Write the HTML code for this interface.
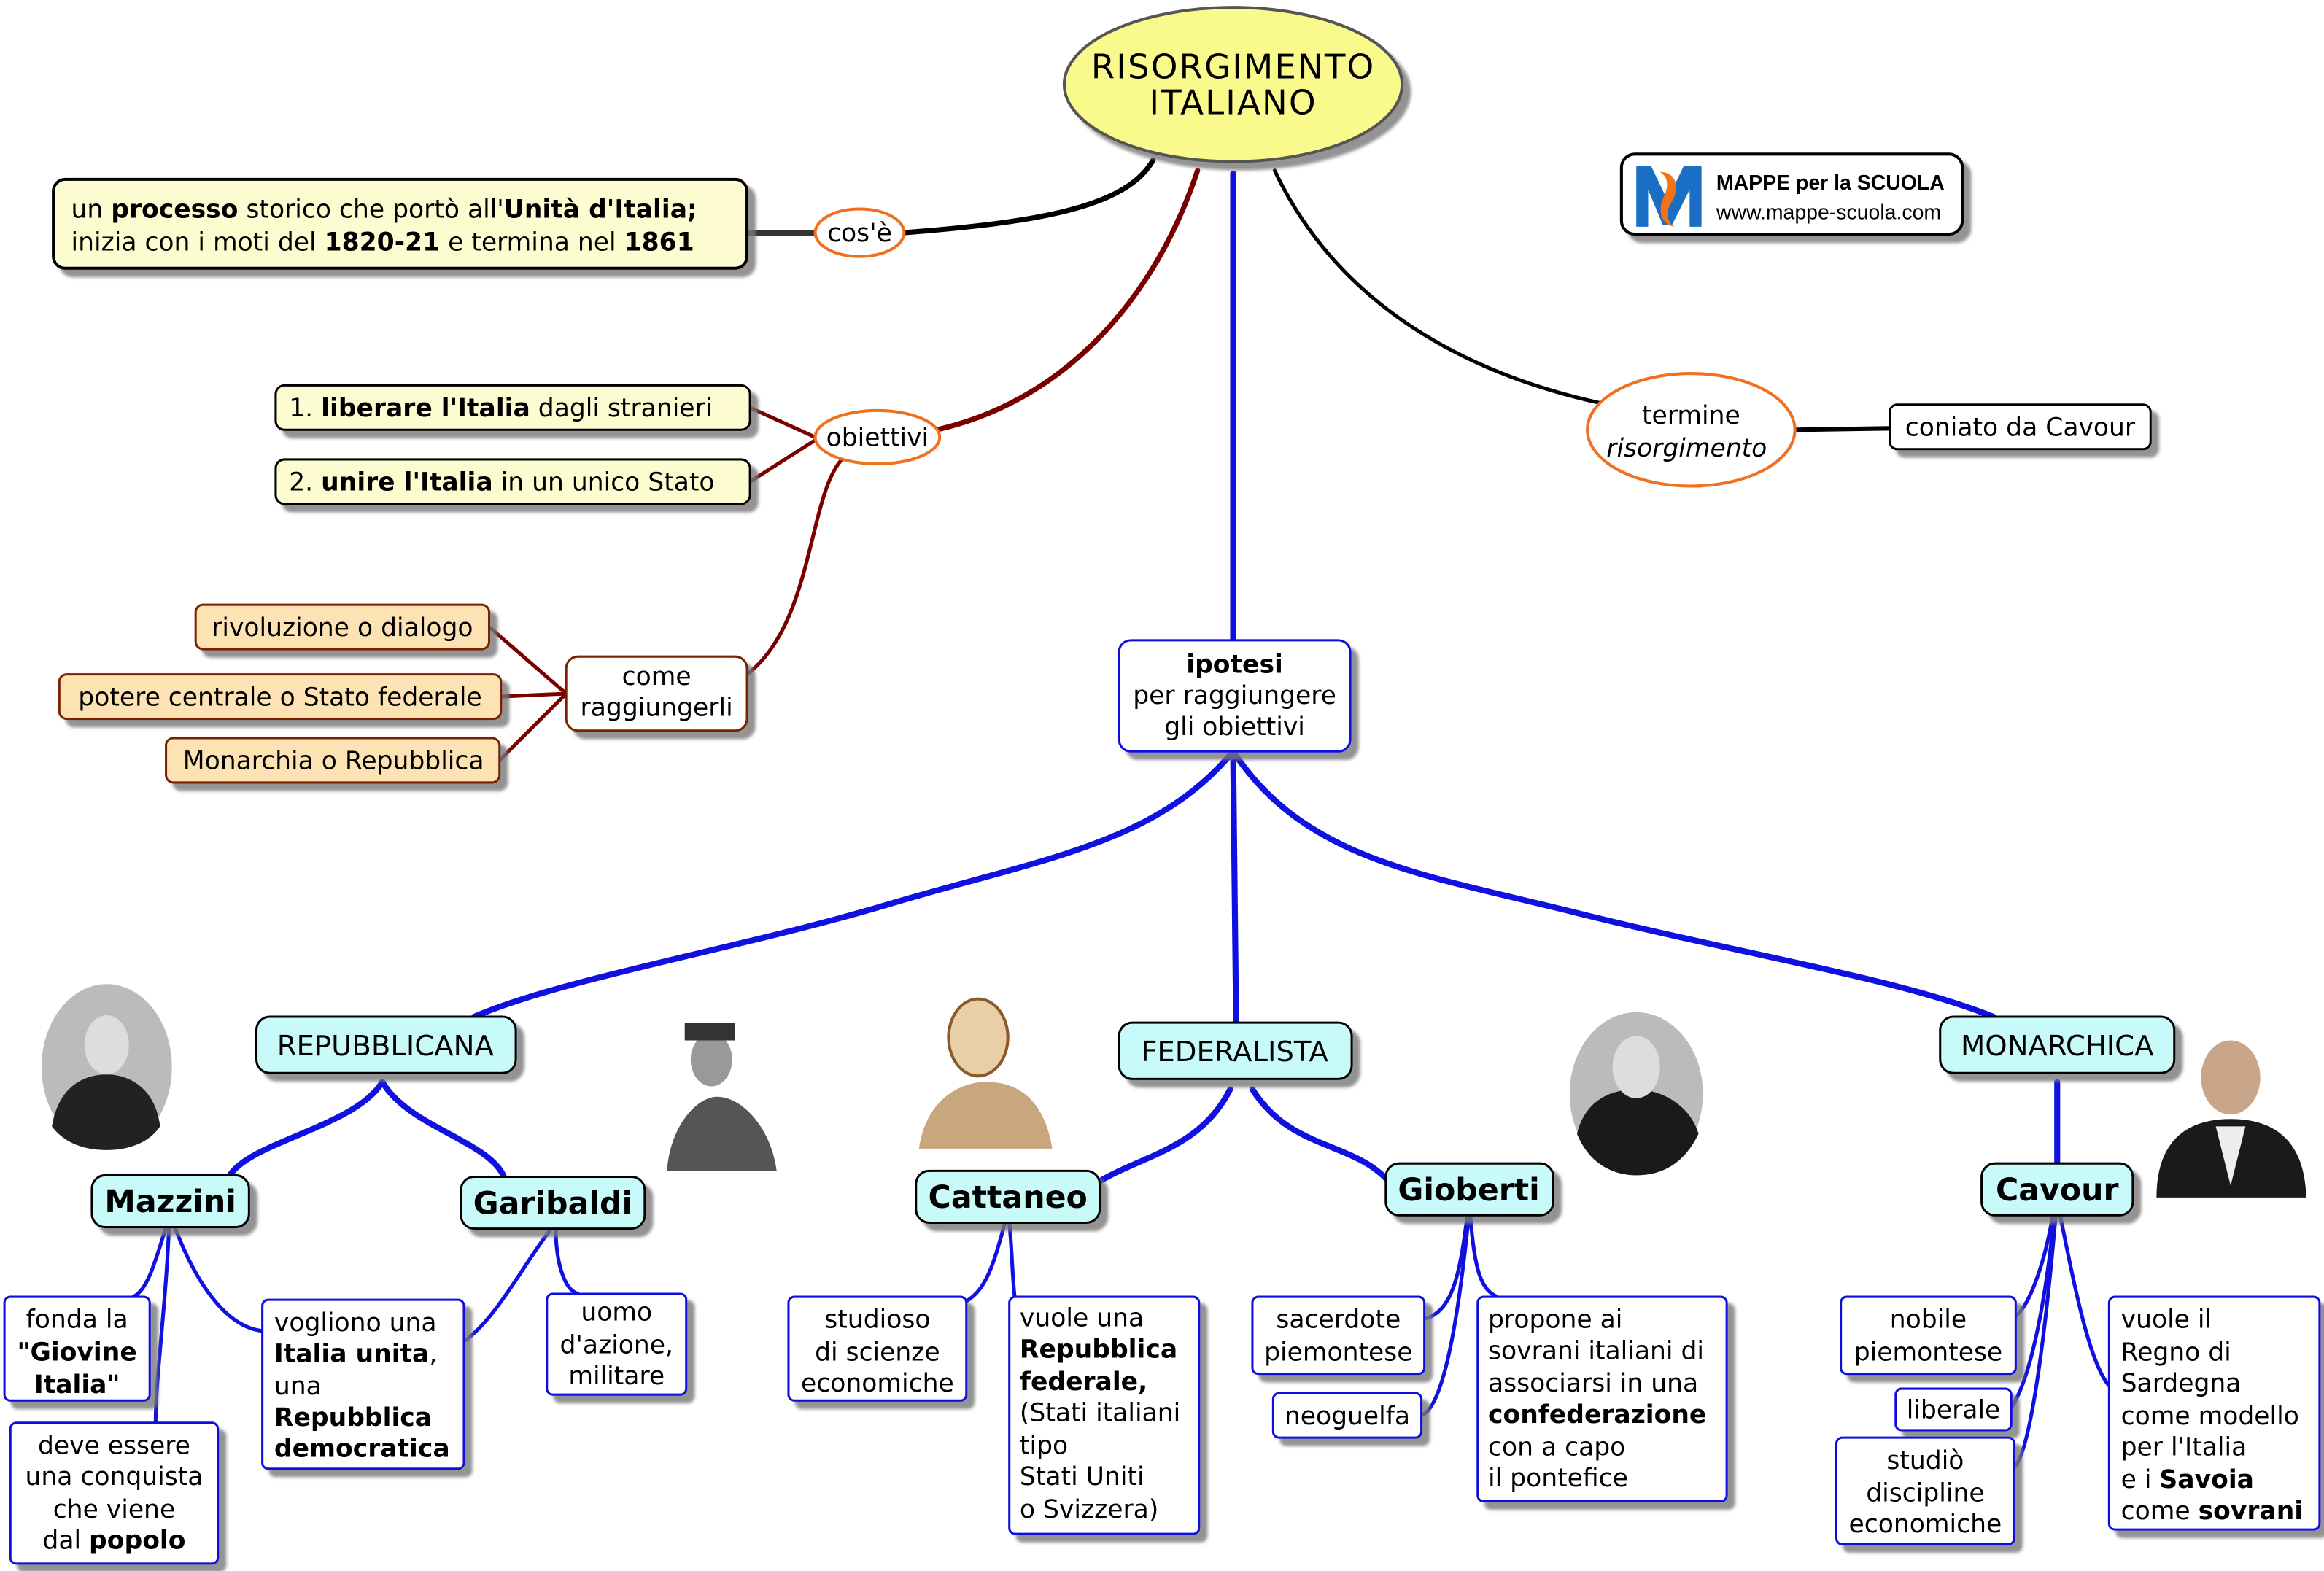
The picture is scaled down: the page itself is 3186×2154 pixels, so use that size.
<!DOCTYPE html>
<html><head><meta charset="utf-8"><style>
html,body{margin:0;padding:0;background:#fff}
svg{display:block}
text{font-family:"DejaVu Sans","Liberation Sans",sans-serif;font-size:17px;fill:#000}
.b{font-weight:bold}
.c{text-anchor:middle}
</style></head><body>
<svg width="3186" height="2154" viewBox="0 0 1568 1060" preserveAspectRatio="none" xmlns="http://www.w3.org/2000/svg">
<defs>
<filter id="sh" x="-10%" y="-10%" width="130%" height="140%"><feDropShadow dx="5" dy="5" stdDeviation="1" flood-color="#777" flood-opacity="0.8"/></filter>
</defs>
<rect width="1568" height="1060" fill="#fff"/>

<!-- connectors -->
<g fill="none" stroke-linecap="round">
<path d="M504,157 L550,157" stroke="#333" stroke-width="4"/>
<path d="M610,157 C700,150 760,140 778,108" stroke="#000" stroke-width="3.5"/>
<path d="M632,290 C720,270 780,200 808,115" stroke="#7a0000" stroke-width="3.5"/>
<path d="M506,275 L550,295 M506,325 L550,297" stroke="#7a0000" stroke-width="2.5"/>
<path d="M504,455 C550,420 545,330 570,308" stroke="#7a0000" stroke-width="2.5"/>
<path d="M330,423 L382,468 M338,470 L382,468 M337,513 L382,468" stroke="#7a0000" stroke-width="2.5"/>
<path d="M860,115 C900,200 980,250 1080,272" stroke="#000" stroke-width="2.5"/>
<path d="M1212,290 L1275,289" stroke="#000" stroke-width="3"/>
<g stroke="#1010e0" stroke-width="4">
<path d="M832,117 L832,432"/>
<path d="M832,507 C780,570 700,580 600,610 C500,640 380,660 320,686"/>
<path d="M832,507 L834,690"/>
<path d="M832,507 C880,580 960,590 1060,615 C1180,645 1280,660 1345,686"/>
<path d="M258,730 C240,760 170,770 155,793"/>
<path d="M258,730 C275,760 330,770 340,794"/>
<path d="M830,735 C810,775 770,780 742,797"/>
<path d="M845,735 C870,775 910,770 935,795"/>
<path d="M1388,730 L1388,785"/>
</g>
<g stroke="#1010e0" stroke-width="2.5">
<path d="M112,828 C105,850 100,870 90,875"/>
<path d="M114,828 C112,880 105,930 105,960"/>
<path d="M118,828 C130,860 150,895 177,898"/>
<path d="M372,829 C355,850 335,890 313,905"/>
<path d="M375,829 C375,850 380,870 390,873"/>
<path d="M678,825 C670,855 665,870 652,878"/>
<path d="M681,825 C683,845 683,865 685,878"/>
<path d="M990,820 C985,860 980,885 961,890"/>
<path d="M991,820 C985,880 975,950 959,955"/>
<path d="M992,820 C995,860 1000,870 1010,875"/>
<path d="M1385,820 C1380,850 1370,880 1360,888"/>
<path d="M1386,820 C1380,880 1370,930 1357,950"/>
<path d="M1387,820 C1380,900 1370,980 1359,990"/>
<path d="M1390,820 C1400,870 1410,920 1423,935"/>
</g>
</g>

<!-- title -->
<ellipse cx="832" cy="57" rx="114" ry="52" fill="#fafa8c" stroke="#555" stroke-width="2" filter="url(#sh)"/>
<text x="832" y="53" class="c" style="font-size:23px;letter-spacing:1px">RISORGIMENTO</text>
<text x="832" y="77" class="c" style="font-size:23px;letter-spacing:1px">ITALIANO</text>

<!-- logo -->
<rect x="1094" y="104" width="230" height="54" rx="9" fill="#fff" stroke="#000" stroke-width="2" filter="url(#sh)"/>
<path d="M1104,153 L1104,112 L1114,112 L1125,135 L1136,112 L1148,112 L1148,153 L1140,153 L1140,128 L1128,152 L1122,152 L1112,128 L1112,153 Z" fill="#1a6fc4"/>
<path d="M1120,116 C1132,116 1133,128 1128,136 C1124,142 1124,150 1130,153 C1122,152 1118,144 1122,134 C1126,126 1126,120 1120,116 Z" fill="#f47216"/>
<text x="1158" y="128" class="b" style="font-size:14px;font-family:'Liberation Sans',sans-serif">MAPPE per la SCUOLA</text>
<text x="1158" y="148" style="font-size:14px;font-family:'Liberation Sans',sans-serif">www.mappe-scuola.com</text>

<!-- cos'è -->
<rect x="36" y="121" width="468" height="60" rx="8" fill="#fdfbd0" stroke="#000" stroke-width="2" filter="url(#sh)"/>
<text x="48" y="147">un <tspan class="b">processo</tspan> storico che portò all'<tspan class="b">Unità d'Italia;</tspan></text>
<text x="48" y="169">inizia con i moti del <tspan class="b">1820-21</tspan> e termina nel <tspan class="b">1861</tspan></text>
<ellipse cx="580" cy="157" rx="30" ry="16" fill="#fff" stroke="#f07020" stroke-width="2"/>
<text x="580" y="163" class="c">cos'è</text>

<!-- obiettivi -->
<ellipse cx="592" cy="295" rx="42" ry="18" fill="#fff" stroke="#f07020" stroke-width="2"/>
<text x="592" y="301" class="c">obiettivi</text>
<rect x="186" y="260" width="320" height="30" rx="6" fill="#fdfbd0" stroke="#000" stroke-width="1.5" filter="url(#sh)"/>
<text x="195" y="281">1. <tspan class="b">liberare l'Italia</tspan> dagli stranieri</text>
<rect x="186" y="310" width="320" height="30" rx="6" fill="#fdfbd0" stroke="#000" stroke-width="1.5" filter="url(#sh)"/>
<text x="195" y="331">2. <tspan class="b">unire l'Italia</tspan> in un unico Stato</text>

<rect x="382" y="443" width="122" height="50" rx="8" fill="#fff" stroke="#7a2000" stroke-width="1.5" filter="url(#sh)"/>
<text x="443" y="462" class="c">come</text>
<text x="443" y="483" class="c">raggiungerli</text>
<rect x="132" y="408" width="198" height="30" rx="5" fill="#fde3b4" stroke="#7a2000" stroke-width="1.5" filter="url(#sh)"/>
<text x="231" y="429" class="c">rivoluzione o dialogo</text>
<rect x="40" y="455" width="298" height="30" rx="5" fill="#fde3b4" stroke="#7a2000" stroke-width="1.5" filter="url(#sh)"/>
<text x="189" y="476" class="c">potere centrale o Stato federale</text>
<rect x="112" y="498" width="225" height="30" rx="5" fill="#fde3b4" stroke="#7a2000" stroke-width="1.5" filter="url(#sh)"/>
<text x="225" y="519" class="c">Monarchia o Repubblica</text>

<!-- termine -->
<ellipse cx="1141" cy="290" rx="70" ry="38" fill="#fff" stroke="#f07020" stroke-width="2"/>
<text x="1141" y="286" class="c">termine</text>
<text x="1138" y="308" class="c" style="font-style:italic">risorgimento</text>
<rect x="1275" y="273" width="176" height="30" rx="5" fill="#fff" stroke="#000" stroke-width="1.5" filter="url(#sh)"/>
<text x="1363" y="294" class="c">coniato da Cavour</text>

<!-- ipotesi -->
<rect x="755" y="432" width="156" height="75" rx="8" fill="#fff" stroke="#1010e0" stroke-width="1.5" filter="url(#sh)"/>
<text x="833" y="454" class="c b">ipotesi</text>
<text x="833" y="475" class="c">per raggiungere</text>
<text x="833" y="496" class="c">gli obiettivi</text>

<!-- categories -->
<g fill="#c8fafa" stroke="#000" stroke-width="1.5" filter="url(#sh)">
<rect x="173" y="686" width="175" height="38" rx="9"/>
<rect x="755" y="690" width="157" height="38" rx="9"/>
<rect x="1309" y="686" width="158" height="38" rx="9"/>
<rect x="62" y="793" width="106" height="35" rx="9"/>
<rect x="311" y="794" width="124" height="35" rx="9"/>
<rect x="618" y="790" width="124" height="35" rx="9"/>
<rect x="935" y="785" width="113" height="35" rx="9"/>
<rect x="1337" y="785" width="102" height="35" rx="9"/>
</g>
<text x="260" y="712" class="c" style="font-size:19px">REPUBBLICANA</text>
<text x="833" y="716" class="c" style="font-size:19px">FEDERALISTA</text>
<text x="1388" y="712" class="c" style="font-size:19px">MONARCHICA</text>
<text x="115" y="818" class="c b" style="font-size:21px">Mazzini</text>
<text x="373" y="819" class="c b" style="font-size:21px">Garibaldi</text>
<text x="680" y="815" class="c b" style="font-size:21px">Cattaneo</text>
<text x="991" y="810" class="c b" style="font-size:21px">Gioberti</text>
<text x="1388" y="810" class="c b" style="font-size:21px">Cavour</text>

<!-- leaves -->
<g fill="#fff" stroke="#1010e0" stroke-width="1.5" filter="url(#sh)">
<rect x="3" y="875" width="98" height="70" rx="4"/>
<rect x="7" y="960" width="140" height="95" rx="4"/>
<rect x="177" y="877" width="136" height="114" rx="4"/>
<rect x="369" y="873" width="94" height="68" rx="4"/>
<rect x="532" y="875" width="120" height="70" rx="4"/>
<rect x="681" y="875" width="128" height="160" rx="4"/>
<rect x="845" y="875" width="116" height="52" rx="4"/>
<rect x="859" y="940" width="100" height="30" rx="4"/>
<rect x="997" y="875" width="168" height="138" rx="4"/>
<rect x="1242" y="875" width="118" height="52" rx="4"/>
<rect x="1279" y="937" width="78" height="28" rx="4"/>
<rect x="1239" y="970" width="120" height="72" rx="4"/>
<rect x="1423" y="875" width="142" height="157" rx="4"/>
</g>
<text x="52" y="896" class="c">fonda la</text>
<text x="52" y="918" class="c b">"Giovine</text>
<text x="52" y="940" class="c b">Italia"</text>
<text x="77" y="981" class="c">deve essere</text>
<text x="77" y="1002" class="c">una conquista</text>
<text x="77" y="1024" class="c">che viene</text>
<text x="77" y="1045" class="c">dal <tspan class="b">popolo</tspan></text>
<text x="185" y="898">vogliono una</text>
<text x="185" y="919"><tspan class="b">Italia unita</tspan>,</text>
<text x="185" y="941">una</text>
<text x="185" y="962" class="b">Repubblica</text>
<text x="185" y="983" class="b">democratica</text>
<text x="416" y="891" class="c">uomo</text>
<text x="416" y="913" class="c">d'azione,</text>
<text x="416" y="934" class="c">militare</text>
<text x="592" y="896" class="c">studioso</text>
<text x="592" y="918" class="c">di scienze</text>
<text x="592" y="939" class="c">economiche</text>
<text x="688" y="895">vuole una</text>
<text x="688" y="916" class="b">Repubblica</text>
<text x="688" y="938" class="b">federale,</text>
<text x="688" y="959">(Stati italiani</text>
<text x="688" y="981">tipo</text>
<text x="688" y="1002">Stati Uniti</text>
<text x="688" y="1024">o Svizzera)</text>
<text x="903" y="896" class="c">sacerdote</text>
<text x="903" y="918" class="c">piemontese</text>
<text x="909" y="961" class="c">neoguelfa</text>
<text x="1004" y="896">propone ai</text>
<text x="1004" y="917">sovrani italiani di</text>
<text x="1004" y="939">associarsi in una</text>
<text x="1004" y="960" class="b">confederazione</text>
<text x="1004" y="982">con a capo</text>
<text x="1004" y="1003">il pontefice</text>
<text x="1301" y="896" class="c">nobile</text>
<text x="1301" y="918" class="c">piemontese</text>
<text x="1318" y="957" class="c">liberale</text>
<text x="1299" y="991" class="c">studiò</text>
<text x="1299" y="1013" class="c">discipline</text>
<text x="1299" y="1034" class="c">economiche</text>
<text x="1431" y="896">vuole il</text>
<text x="1431" y="918">Regno di</text>
<text x="1431" y="939">Sardegna</text>
<text x="1431" y="961">come modello</text>
<text x="1431" y="982">per l'Italia</text>
<text x="1431" y="1004">e i <tspan class="b">Savoia</tspan></text>
<text x="1431" y="1025">come <tspan class="b">sovrani</tspan></text>

<!-- portraits -->
<g>
<ellipse cx="72" cy="720" rx="44" ry="56" fill="#bbb"/>
<path d="M35,760 C40,730 60,725 72,725 C88,725 105,735 108,760 C100,772 85,776 72,776 C58,776 44,772 35,760 Z" fill="#222"/>
<ellipse cx="72" cy="705" rx="15" ry="20" fill="#ddd"/>
<path d="M450,790 C452,760 470,740 484,740 C500,740 520,760 524,790 Z" fill="#555"/>
<ellipse cx="480" cy="715" rx="14" ry="18" fill="#999"/>
<rect x="462" y="690" width="34" height="12" fill="#333"/>
<path d="M620,775 C625,740 650,730 665,730 C690,730 705,745 710,775 Z" fill="#c9a77e"/>
<ellipse cx="660" cy="700" rx="20" ry="26" fill="#e8cfa8" stroke="#8a5a2a" stroke-width="2"/>
<ellipse cx="1104" cy="738" rx="45" ry="55" fill="#bbb"/>
<path d="M1064,765 C1070,740 1090,735 1104,735 C1120,735 1140,745 1146,765 C1135,788 1118,793 1104,793 C1088,793 1072,785 1064,765 Z" fill="#1a1a1a"/>
<ellipse cx="1104" cy="720" rx="16" ry="21" fill="#ddd"/>
<path d="M1455,808 C1455,770 1475,755 1505,755 C1535,755 1555,770 1556,808 Z" fill="#1a1a1a"/>
<path d="M1495,760 L1505,800 L1515,760 Z" fill="#eee"/>
<ellipse cx="1505" cy="727" rx="20" ry="25" fill="#c9a58a"/>
</g>
</svg>
</body></html>
